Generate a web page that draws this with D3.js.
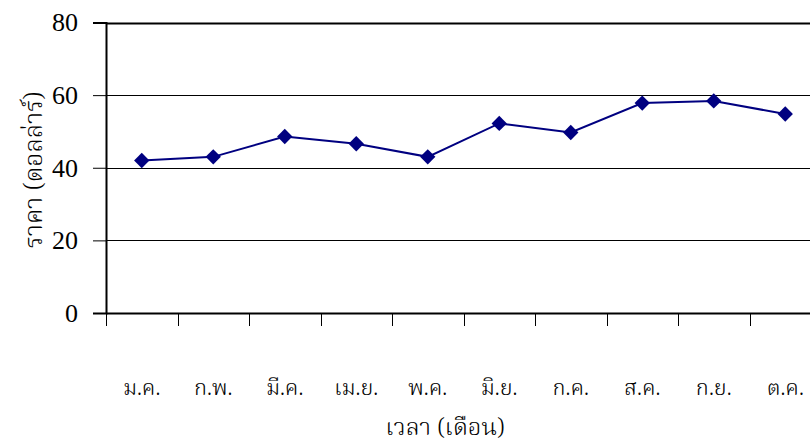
<!DOCTYPE html>
<html><head><meta charset="utf-8">
<script src="https://cdn.jsdelivr.net/npm/d3@7"></script>
<style>body{margin:0;background:#fff}svg{display:block}</style>
</head><body>
<script>
const months = ["ม.ค.","ก.พ.","มี.ค.","เม.ย.","พ.ค.","มิ.ย.","ก.ค.","ส.ค.","ก.ย.","ต.ค."];
const prices = [42, 43, 48.6, 46.6, 43, 52.2, 49.7, 57.8, 58.4, 54.8];
const yTicks = [0, 20, 40, 60, 80];
const xTitle = "เวลา (เดือน)";
const yTitle = "ราคา (ดอลล่าร์)";

const W = 810, H = 446;
const mLeft = 106, mRight = 821, mTop = 22.5, mBottom = 313;
const thaiFont = "'Noto Serif Thai','Noto Sans Thai Looped','Noto Sans Thai',sans-serif";
const svg = d3.select("body").append("svg").attr("width", W).attr("height", H);

const x = d3.scaleBand().domain(months).range([mLeft, mRight]);
const y = d3.scaleLinear().domain([0, 80]).range([mBottom, mTop]);

// gridlines
svg.append("g").selectAll("line").data(yTicks.filter(d => d > 0)).join("line")
  .attr("x1", mLeft).attr("x2", mRight)
  .attr("y1", d => Math.round(y(d)) + 0.5).attr("y2", d => Math.round(y(d)) + 0.5)
  .attr("stroke", "#000").attr("stroke-width", d => d === 80 ? 2 : 1);

// y axis
const ya = svg.append("g").attr("transform", `translate(${mLeft},0)`)
  .call(d3.axisLeft(y).tickValues(yTicks).tickSize(13).tickPadding(15));
ya.select(".domain").attr("stroke", "#000").attr("stroke-width", 2);
ya.selectAll(".tick line").attr("stroke", "#000");
ya.selectAll("text").attr("font-family", "'Liberation Serif', serif").attr("font-size", 26).attr("fill", "#000");

// x axis
const xa = svg.append("g").attr("transform", `translate(0,${mBottom})`)
  .call(d3.axisBottom(x).tickSize(0).tickFormat(""));
xa.select(".domain").attr("stroke", "#000").attr("stroke-width", 2);
svg.append("g").selectAll("line").data(months).join("line")
  .attr("x1", d => Math.round(x(d)) + 0.5).attr("x2", d => Math.round(x(d)) + 0.5)
  .attr("y1", mBottom).attr("y2", mBottom + 13).attr("stroke", "#000");

// x labels
svg.append("g").selectAll("text").data(months).join("text")
  .attr("x", d => x(d) + x.bandwidth() / 2).attr("y", 395)
  .attr("text-anchor", "middle")
  .attr("font-family", thaiFont).attr("font-weight", 300)
  .attr("font-size", 22).attr("fill", "#000")
  .text(d => d);

// titles
svg.append("text").attr("x", 445).attr("y", 435).attr("text-anchor", "middle")
  .attr("font-family", thaiFont).attr("font-weight", 300).attr("font-size", 24).attr("fill", "#000")
  .text(xTitle);
svg.append("text").attr("transform", `translate(42,170) rotate(-90)`).attr("text-anchor", "middle")
  .attr("font-family", thaiFont).attr("font-weight", 300).attr("font-size", 25).attr("fill", "#000")
  .text(yTitle);

// line
const cx = d => x(d) + x.bandwidth() / 2;
svg.append("path").datum(prices.map((v, i) => [cx(months[i]), y(v)]))
  .attr("d", d3.line()).attr("fill", "none").attr("stroke", "#000080").attr("stroke-width", 2);

// markers
svg.append("g").selectAll("path").data(prices).join("path")
  .attr("transform", (v, i) => `translate(${cx(months[i])},${y(v)})`)
  .attr("d", d3.symbol(d3.symbolDiamond2, 150))
  .attr("fill", "#000080");
</script>
</body></html>
